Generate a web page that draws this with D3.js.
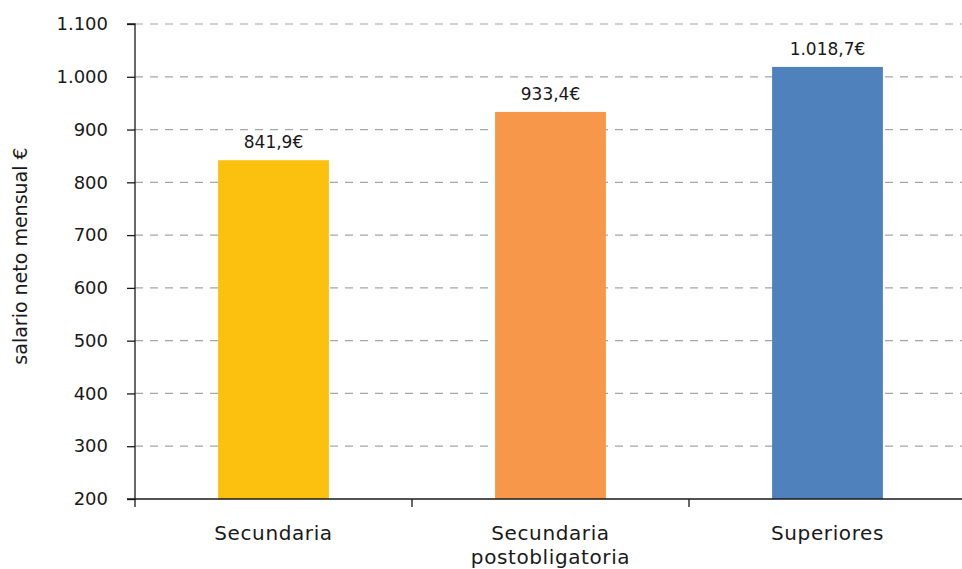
<!DOCTYPE html>
<html><head><meta charset="utf-8">
<script src="https://cdn.jsdelivr.net/npm/d3@7"></script>
<style>body{margin:0;background:#fff}svg{display:block}text{font-family:"DejaVu Sans",sans-serif;fill:#1a1a1a}</style>
</head><body>
<svg id="c" width="962" height="569"></svg>
<script>
const categories = [["Secundaria"], ["Secundaria", "postobligatoria"], ["Superiores"]];
const values = [841.9, 933.4, 1018.7];
const valueLabels = ["841,9€", "933,4€", "1.018,7€"];
const colors = ["#FBC10E", "#F79749", "#4F81BD"];
const yTicks = [200, 300, 400, 500, 600, 700, 800, 900, 1000, 1100];
const yTickLabels = ["200", "300", "400", "500", "600", "700", "800", "900", "1.000", "1.100"];

(function() {
const svg = d3.select("#c");
const mLeft = 135, mRight = 966, mTop = 24, mBottom = 499;
const x = d3.scaleBand().domain(d3.range(categories.length)).range([mLeft, mRight]).paddingInner(0).paddingOuter(0);
const y = d3.scaleLinear().domain([200, 1100]).range([mBottom, mTop]);

// grid
svg.append("g").selectAll("line").data(yTicks.slice(1)).join("line")
  .attr("x1", mLeft).attr("x2", 962).attr("y1", d => y(d)).attr("y2", d => y(d))
  .attr("stroke", "#a6a6a6").attr("stroke-width", 1.2).attr("stroke-dasharray", "8,7");

// bars
const bw = x.bandwidth() * 0.4;
svg.append("g").selectAll("rect").data(values).join("rect")
  .attr("x", (d, i) => x(i) + x.bandwidth() / 2 - bw / 2)
  .attr("width", bw)
  .attr("y", d => y(d)).attr("height", d => mBottom - y(d))
  .attr("fill", (d, i) => colors[i]);

// value labels
svg.append("g").selectAll("text").data(values).join("text")
  .attr("x", (d, i) => x(i) + x.bandwidth() / 2)
  .attr("y", d => y(d) - 12)
  .attr("text-anchor", "middle").attr("font-size", 17)
  .text((d, i) => valueLabels[i]);

// y axis
const yAxis = d3.axisLeft(y).tickValues(yTicks).tickSize(8).tickPadding(19)
  .tickFormat((d, i) => yTickLabels[i]);
const gy = svg.append("g").attr("transform", `translate(${mLeft},0)`).call(yAxis);
gy.select(".domain").attr("stroke", "#1a1a1a").attr("stroke-width", 1.3).attr("d", `M-8,${mTop}H0V${mBottom}`);
gy.selectAll(".tick line").attr("stroke", "#1a1a1a").attr("stroke-width", 1.3);
gy.selectAll(".tick text").attr("font-size", 18).attr("font-family", "'DejaVu Sans',sans-serif").attr("fill", "#1a1a1a");

// x axis
svg.append("line").attr("x1", mLeft - 8).attr("x2", 962).attr("y1", mBottom).attr("y2", mBottom)
  .attr("stroke", "#1a1a1a").attr("stroke-width", 1.3);
const xTickPos = d3.range(categories.length + 1).map(i => i < categories.length ? x(i) : mRight);
svg.append("g").selectAll("line").data(xTickPos).join("line")
  .attr("x1", d => d).attr("x2", d => d).attr("y1", mBottom).attr("y2", mBottom + 8)
  .attr("stroke", "#1a1a1a").attr("stroke-width", 1.3);

const xl = svg.append("g").selectAll("text").data(categories).join("text")
  .attr("x", (d, i) => x(i) + x.bandwidth() / 2)
  .attr("y", 540).attr("text-anchor", "middle").attr("font-size", 20).attr("letter-spacing", 0.6);
xl.selectAll("tspan").data(d => d).join("tspan")
  .attr("x", function() { return this.parentNode.getAttribute("x"); })
  .attr("dy", (d, j) => j === 0 ? 0 : 24).text(d => d);

// y label
svg.append("text").attr("transform", "translate(27,256) rotate(-90)")
  .attr("text-anchor", "middle").attr("font-size", 19).text("salario neto mensual €");
})();
</script>
</body></html>
